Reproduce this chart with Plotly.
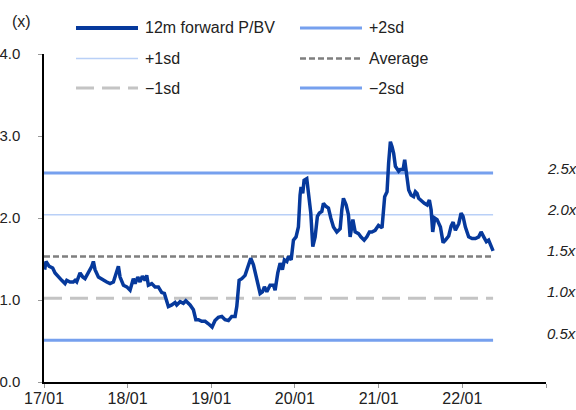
import pandas as pd
import plotly.graph_objects as go

# ---- data (decimal years, 12m forward P/BV) ----
years = [2017.008, 2017.024, 2017.063, 2017.104, 2017.132, 2017.171, 2017.212, 2017.251, 2017.272, 2017.311,
         2017.350, 2017.371, 2017.391, 2017.431, 2017.463, 2017.490, 2017.530, 2017.571, 2017.590, 2017.610,
         2017.650, 2017.709, 2017.750, 2017.789, 2017.829, 2017.870, 2017.889, 2017.909, 2017.949, 2017.989,
         2018.029, 2018.068, 2018.089, 2018.121, 2018.148, 2018.176, 2018.208, 2018.228, 2018.248, 2018.288,
         2018.328, 2018.367, 2018.408, 2018.439, 2018.468, 2018.487, 2018.528, 2018.567, 2018.587, 2018.627,
         2018.666, 2018.695, 2018.746, 2018.786, 2018.815, 2018.846, 2018.886, 2018.926, 2018.965, 2019.010,
         2019.045, 2019.085, 2019.126, 2019.165, 2019.205, 2019.245, 2019.285, 2019.305, 2019.333, 2019.365,
         2019.404, 2019.444, 2019.472, 2019.504, 2019.524, 2019.556, 2019.584, 2019.611, 2019.635, 2019.664,
         2019.703, 2019.743, 2019.763, 2019.795, 2019.823, 2019.850, 2019.874, 2019.903, 2019.922, 2019.955,
         2019.982, 2020.014, 2020.042, 2020.062, 2020.074, 2020.094, 2020.110, 2020.142, 2020.161, 2020.173,
         2020.190, 2020.214, 2020.242, 2020.269, 2020.293, 2020.322, 2020.341, 2020.373, 2020.401, 2020.429,
         2020.461, 2020.501, 2020.541, 2020.561, 2020.580, 2020.612, 2020.640, 2020.660, 2020.693, 2020.720,
         2020.760, 2020.788, 2020.828, 2020.860, 2020.891, 2020.920, 2020.959, 2020.999, 2021.039, 2021.071,
         2021.099, 2021.118, 2021.139, 2021.159, 2021.178, 2021.199, 2021.238, 2021.258, 2021.291, 2021.310,
         2021.339, 2021.358, 2021.386, 2021.417, 2021.438, 2021.458, 2021.477, 2021.518, 2021.545, 2021.578,
         2021.605, 2021.626, 2021.645, 2021.669, 2021.697, 2021.737, 2021.769, 2021.797, 2021.836, 2021.865,
         2021.889, 2021.916, 2021.956, 2021.984, 2022.008, 2022.036, 2022.075, 2022.116, 2022.156, 2022.195,
         2022.224, 2022.255, 2022.287, 2022.314, 2022.343, 2022.367]
pbv = [1.37, 1.47, 1.41, 1.39, 1.33, 1.28, 1.24, 1.20, 1.24, 1.22,
       1.22, 1.24, 1.22, 1.33, 1.28, 1.26, 1.33, 1.41, 1.47, 1.37,
       1.28, 1.24, 1.22, 1.20, 1.22, 1.35, 1.41, 1.28, 1.18, 1.16,
       1.12, 1.26, 1.20, 1.28, 1.22, 1.29, 1.24, 1.30, 1.18, 1.20,
       1.16, 1.16, 1.09, 1.08, 0.98, 0.92, 0.94, 0.97, 0.94, 0.98,
       0.96, 0.99, 0.94, 0.88, 0.76, 0.76, 0.74, 0.74, 0.71, 0.67,
       0.75, 0.79, 0.80, 0.76, 0.75, 0.80, 0.80, 0.92, 1.24, 1.26,
       1.30, 1.43, 1.51, 1.43, 1.33, 1.20, 1.08, 1.10, 1.16, 1.10,
       1.18, 1.18, 1.12, 1.33, 1.45, 1.37, 1.49, 1.47, 1.53, 1.49,
       1.73, 1.77, 1.89, 2.28, 2.38, 2.30, 2.46, 2.48, 2.30, 2.22,
       2.06, 1.65, 1.77, 2.02, 2.06, 2.08, 2.18, 2.14, 2.12, 2.00,
       1.89, 1.83, 1.87, 2.10, 2.24, 2.16, 2.04, 1.77, 1.98, 1.83,
       1.81, 1.77, 1.73, 1.77, 1.83, 1.83, 1.85, 1.91, 1.88, 2.26,
       2.32, 2.67, 2.93, 2.87, 2.79, 2.63, 2.57, 2.59, 2.59, 2.71,
       2.44, 2.34, 2.28, 2.26, 2.32, 2.30, 2.24, 2.20, 2.18, 2.16,
       2.22, 2.10, 1.83, 2.00, 1.98, 1.89, 1.70, 1.73, 1.78, 1.90,
       1.95, 1.85, 1.93, 2.06, 2.02, 1.89, 1.77, 1.75, 1.75, 1.77,
       1.83, 1.77, 1.71, 1.73, 1.65, 1.60]

band_names = ["+2sd", "+1sd", "Average", "\u22121sd", "\u22122sd"]
band_values = [2.55, 2.04, 1.53, 1.02, 0.51]
band_labels = ["2.5x", "2.0x", "1.5x", "1.0x", "0.5x"]
tick_years = [2017, 2018, 2019, 2020, 2021, 2022, 2023]
tick_text = ["17/01", "18/01", "19/01", "20/01", "21/01", "22/01", ""]
y_ticks = [0, 1, 2, 3, 4]
y_tick_text = ["0.0", "1.0", "2.0", "3.0", "4.0"]


def to_date(y):
    base = int(y)
    return pd.Timestamp(f"{base}-01-01") + pd.Timedelta(days=(y - base) * 365.25)


dates = [to_date(y) for y in years]
start_date = pd.Timestamp("2017-01-01")

FONT = "Liberation Sans, Arial, sans-serif"
FS = 16
W, H = 576, 410
ML, MR, MT, MB = 44, 30, 54, 28
PW, PH = W - ML - MR, H - MT - MB


def px(x):
    return (x - ML) / PW


def py(y):
    return (H - MB - y) / PH


styles = {
    "+2sd": dict(color="#76a0ee", width=3),
    "+1sd": dict(color="#b9d0f7", width=1.5),
    "Average": dict(color="#7f7f7f", width=2.5, dash="6px,3px"),
    "\u22121sd": dict(color="#c4c4c4", width=3, dash="18px,8px"),
    "\u22122sd": dict(color="#76a0ee", width=3),
}
main_style = dict(color="#06399c", width=3.5)

fig = go.Figure()
for name, val in zip(band_names, band_values):
    fig.add_trace(go.Scatter(x=[start_date, dates[-1]], y=[val, val], mode="lines",
                             name=name, line=styles[name], showlegend=False, hoverinfo="skip"))
fig.add_trace(go.Scatter(x=dates, y=pbv, mode="lines", name="12m forward P/BV",
                         line=main_style, showlegend=False))

# manual legend (2 columns x 3 rows)
legend_items = [("12m forward P/BV", main_style, 0, 0), ("+2sd", styles["+2sd"], 1, 0),
                ("+1sd", styles["+1sd"], 0, 1), ("Average", styles["Average"], 1, 1),
                ("\u22121sd", styles["\u22121sd"], 0, 2), ("\u22122sd", styles["\u22122sd"], 1, 2)]
col_x = [76, 300]
row_y = [28, 58.5, 88]
shapes = []
annotations = []
for label, st, c, r in legend_items:
    x0 = col_x[c]
    yy = row_y[r]
    line = dict(color=st["color"], width=st["width"] + (0.5 if label.startswith("12m") else 0))
    if "dash" in st:
        line["dash"] = st["dash"]
    shapes.append(dict(type="line", xref="paper", yref="paper", x0=px(x0), x1=px(x0 + 62),
                       y0=py(yy), y1=py(yy), line=line))
    annotations.append(dict(text=label, xref="paper", yref="paper", x=px(x0 + 67), y=py(yy),
                            xanchor="left", yanchor="middle", showarrow=False,
                            font=dict(family=FONT, size=FS, color="#222222")))

annotations.append(dict(text="(x)", xref="paper", yref="paper", x=px(10), y=py(22),
                        xanchor="left", yanchor="middle", showarrow=False,
                        font=dict(family=FONT, size=FS, color="#222222")))
label_pos = [168.7, 209.5, 250.5, 291.5, 333]
for lab, yy in zip(band_labels, label_pos):
    annotations.append(dict(text=f"<i>{lab}</i>", xref="paper", yref="paper", x=px(545), y=py(yy),
                            xanchor="left", yanchor="middle", showarrow=False,
                            font=dict(family=FONT, size=15, color="#222222")))

fig.update_layout(
    width=W, height=H,
    margin=dict(l=ML, r=MR, t=MT, b=MB, autoexpand=False),
    paper_bgcolor="white", plot_bgcolor="white",
    showlegend=False,
    shapes=shapes, annotations=annotations,
    font=dict(family=FONT, size=FS, color="#222222"),
)
fig.update_xaxes(type="date", range=[start_date, pd.Timestamp("2023-01-01")], automargin=False,
                 tickvals=[pd.Timestamp(f"{y}-01-01") for y in tick_years], ticktext=tick_text,
                 showgrid=False, zeroline=False, showline=True, linecolor="black", linewidth=1.5,
                 ticks="outside", ticklen=4, tickcolor="#999999", tickwidth=1, ticklabelstandoff=-3,
                 tickfont=dict(family=FONT, size=FS, color="#222222"))
fig.update_yaxes(range=[0, 4], tickvals=y_ticks, ticktext=y_tick_text, automargin=False,
                 showgrid=False, zeroline=False, showline=True, linecolor="black", linewidth=1.5,
                 ticks="outside", ticklen=4, tickcolor="#999999", tickwidth=1, ticklabelstandoff=15,
                 tickfont=dict(family=FONT, size=15, color="#222222"))

fig.write_html("out.html", config={"displayModeBar": False},
               post_script="document.body.style.margin='0';")
